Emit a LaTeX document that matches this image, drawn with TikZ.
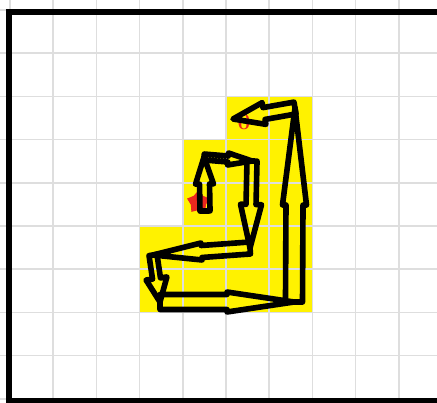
\documentclass[tikz,border=0pt]{standalone}
\usepackage{xcolor}
\usepackage{tikz}
\usetikzlibrary{shapes.geometric, arrows.meta, positioning, calc}
\definecolor{cellyellow}{RGB}{255, 242, 0}
\definecolor{gridgray}{RGB}{222, 222, 222}
\definecolor{markred}{RGB}{235, 40, 30}

% hollow turtle arrow: from, to, shaft half width, head half width
\newcommand{\trail}[4]{%
  \coordinate (#1#2m) at ($(#1)!0.5!(#2)$);
  \draw[trailarrow] ($(#1)!#3!90:(#2)$) -- ($(#1#2m)!#3!90:(#2)$)
    -- ($(#1#2m)!#4!90:(#2)$) -- (#2) -- ($(#1#2m)!#4!-90:(#2)$)
    -- ($(#1#2m)!#3!-90:(#2)$) -- ($(#1)!#3!-90:(#2)$) -- cycle;
}

\begin{document}
\begin{tikzpicture}[
  x=1cm, y=1cm,
  cellfill/.style={fill=cellyellow, draw=none},
  gridline/.style={draw=gridgray, line width=1pt},
  frameline/.style={draw=black, line width=4pt},
  trailarrow/.style={draw=black, line width=3.7pt, line join=round},
  redlabel/.style={text=markred, font=\bfseries\fontsize{15}{15}\selectfont, inner sep=0pt},
  startstar/.style={star, star points=5, fill=markred, draw=none,
    minimum size=0.55cm, inner sep=0pt}
]
\clip (-0.2315,0.2315) rectangle (9.884,-9.074);
\fill[white] (-0.2315,0.2315) rectangle (9.884,-9.074);

% Visited cells
\foreach \i/\j in {5/2,6/2,4/3,5/3,6/3,4/4,5/4,6/4,3/5,4/5,5/5,6/5,3/6,4/6,5/6,6/6}
  \fill[cellfill] (\i,-\j) rectangle ++(1,-1);

% Grid
\foreach \k in {0,...,10} {
  \draw[gridline] (\k,0.5) -- (\k,-9.5);
  \draw[gridline] (-0.5,-\k) -- (10.5,-\k);
}

% Frame
\draw[frameline] (10.5,-0.046) -- (-0.023,-0.046) -- (-0.023,-9.04) -- (10.5,-9.04);

% Turtle positions
\coordinate (p0) at (4.514,-4.653);
\coordinate (p1) at (4.491,-3.403);
\coordinate (p2) at (5.602,-3.495);
\coordinate (p3) at (5.556,-5.509);
\coordinate (p4) at (3.310,-5.671);
\coordinate (p5) at (3.472,-6.759);
\coordinate (p6) at (6.574,-6.759);
\coordinate (p7) at (6.597,-2.269);
\coordinate (p8) at (5.162,-2.523);

% Marks
\node[startstar] (start) at (4.36,-4.45) {};
\node[redlabel] (zero) at (5.42,-2.6) {0};

% Path
\trail{p0}{p1}{0.116cm}{0.208cm}
\trail{p1}{p2}{0.069cm}{0.139cm}
\trail{p2}{p3}{0.116cm}{0.243cm}
\trail{p3}{p4}{0.139cm}{0.197cm}
\trail{p4}{p5}{0.093cm}{0.243cm}
\trail{p5}{p6}{0.174cm}{0.231cm}
\trail{p6}{p7}{0.197cm}{0.278cm}
\trail{p7}{p8}{0.139cm}{0.255cm}

\end{tikzpicture}
\end{document}
